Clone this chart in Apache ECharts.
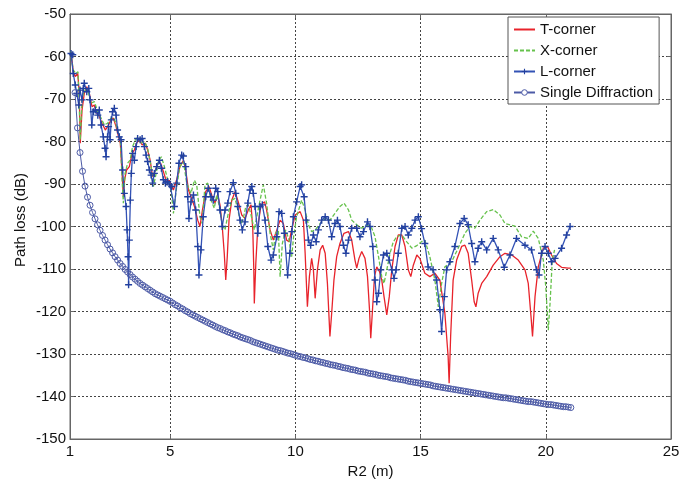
<!DOCTYPE html>
<html><head><meta charset="utf-8">
<script src="https://cdn.jsdelivr.net/npm/echarts@6/dist/echarts.min.js"></script>
<style>html,body{margin:0;padding:0;background:#fff}#c{width:699px;height:484px}</style>
</head><body><div id="c"></div>
<script>
const xTicks = [1, 5, 10, 15, 20, 25];
const seriesNames = ['T-corner', 'X-corner', 'L-corner', 'Single Diffraction'];

const tCorner = [[1.02,-59.5],[1.04,-58.9],[1.13,-63.6],[1.21,-64.7],[1.31,-64],[1.37,-68.7],[1.41,-80.4],[1.48,-72.6],[1.57,-68.7],[1.67,-67.1],[1.77,-68.7],[1.88,-71.8],[1.97,-71.4],[2.07,-73.4],[2.17,-74.1],[2.28,-75.7],[2.41,-77.3],[2.5,-76.5],[2.64,-74.9],[2.73,-74.5],[2.84,-76.5],[2.94,-78.9],[3.01,-80.4],[3.08,-87.5],[3.13,-93],[3.18,-89],[3.26,-86.7],[3.37,-85.9],[3.48,-82.8],[3.57,-82],[3.66,-80.4],[3.77,-79.6],[3.88,-80.8],[4.01,-80.4],[4.1,-82],[4.2,-84.4],[4.3,-88.3],[4.41,-86.7],[4.52,-85.1],[4.62,-85.1],[4.73,-87.1],[4.83,-89],[4.97,-89.2],[5.13,-91.4],[5.26,-89],[5.39,-85.9],[5.53,-84.4],[5.62,-86.7],[5.73,-91.4],[5.83,-93],[5.97,-95.3],[6.1,-98.5],[6.19,-100],[6.29,-96.1],[6.42,-91.8],[6.55,-90.6],[6.68,-93],[6.79,-94.5],[6.9,-92.6],[6.99,-94.9],[7.08,-100],[7.16,-106.3],[7.22,-112.6],[7.28,-107.1],[7.35,-98.5],[7.46,-93.8],[7.59,-91.8],[7.72,-94.2],[7.86,-97.3],[7.99,-98.1],[8.12,-96.1],[8.23,-94.9],[8.3,-100.8],[8.34,-110.2],[8.36,-118.1],[8.42,-108.7],[8.5,-100],[8.63,-94.9],[8.77,-94.2],[8.85,-96.1],[8.99,-100.8],[9.12,-103.2],[9.26,-100.8],[9.39,-98.5],[9.52,-99.3],[9.65,-103.2],[9.75,-103.6],[9.85,-100.8],[9.99,-97.3],[10.19,-96.5],[10.32,-98.5],[10.39,-106.3],[10.48,-118.9],[10.56,-111.8],[10.65,-107.5],[10.72,-110.2],[10.79,-116.9],[10.88,-110.2],[10.99,-105.5],[11.09,-104.4],[11.19,-106.3],[11.28,-113.4],[11.38,-125.9],[11.45,-120.4],[11.54,-112.6],[11.65,-107.1],[11.78,-104],[11.94,-101.6],[12.12,-101.2],[12.25,-103.2],[12.38,-107.9],[12.45,-109.8],[12.54,-107.5],[12.65,-105.9],[12.78,-107.5],[12.88,-111.8],[12.96,-119.6],[13.01,-126.3],[13.08,-119.6],[13.16,-111.8],[13.25,-109.5],[13.36,-110.6],[13.45,-112.6],[13.54,-116.5],[13.65,-120.8],[13.75,-116.5],[13.85,-110.2],[13.98,-104.7],[14.11,-102],[14.25,-102],[14.38,-104.7],[14.51,-110.2],[14.61,-111.8],[14.71,-109.1],[14.85,-106.7],[14.97,-107.5],[15.17,-111],[15.37,-111.8],[15.57,-111],[15.77,-112.6],[15.97,-120.4],[16.1,-130.6],[16.14,-136.9],[16.2,-125.9],[16.3,-112.6],[16.44,-107.9],[16.64,-104.7],[16.77,-104.4],[16.9,-106.3],[17.04,-112.6],[17.14,-117.7],[17.21,-118.9],[17.3,-115.7],[17.44,-113.4],[17.64,-111.8],[17.9,-109.1],[18.17,-107.1],[18.37,-106.3],[18.64,-106.7],[18.9,-107.9],[19.17,-110.2],[19.3,-113.4],[19.41,-121.2],[19.47,-125.9],[19.57,-116.5],[19.7,-109.5],[19.9,-105.1],[20.07,-104.7],[20.23,-106.7],[20.43,-108.7],[20.63,-109.6],[20.9,-109.8],[21.0,-109.8]];

const xCorner = [[1.02,-58.7],[1.04,-58.5],[1.13,-63.2],[1.24,-64],[1.32,-63.6],[1.37,-71.8],[1.41,-79.6],[1.48,-70.2],[1.57,-67.9],[1.71,-67.9],[1.84,-71],[1.97,-70.6],[2.11,-73],[2.24,-74.5],[2.37,-76.1],[2.5,-75.7],[2.64,-74.5],[2.77,-74.5],[2.9,-77.3],[3.01,-79.6],[3.08,-89],[3.13,-94.5],[3.2,-87.5],[3.3,-85.1],[3.4,-84.4],[3.5,-81.2],[3.61,-79.6],[3.72,-78.9],[3.82,-80.4],[3.97,-80],[4.1,-81.6],[4.24,-85.9],[4.33,-90.6],[4.44,-87.5],[4.54,-84.4],[4.65,-83.6],[4.77,-85.9],[4.9,-89],[5.02,-90.4],[5.13,-96.9],[5.26,-90.6],[5.39,-85.9],[5.53,-84.7],[5.66,-89.8],[5.83,-92.2],[5.97,-89.1],[6.06,-90.2],[6.19,-97.7],[6.28,-99.3],[6.39,-90.2],[6.5,-89.8],[6.63,-93.8],[6.76,-95.7],[6.86,-92.6],[6.95,-94.9],[7.08,-99.6],[7.19,-100.8],[7.32,-96.9],[7.46,-93.8],[7.59,-93.4],[7.7,-96.1],[7.83,-99.3],[7.92,-98.1],[8.02,-95.3],[8.12,-94.9],[8.23,-97.3],[8.36,-100.8],[8.46,-97.7],[8.59,-93.8],[8.72,-90.2],[8.85,-94.5],[8.99,-101.6],[9.12,-105.5],[9.21,-101.6],[9.32,-100.8],[9.39,-111.8],[9.48,-104],[9.61,-100.8],[9.75,-103.2],[9.85,-107.1],[9.93,-102.4],[10.05,-97.7],[10.25,-93.8],[10.39,-96.1],[10.52,-99.6],[10.65,-101.2],[10.79,-100.8],[10.99,-99.3],[11.19,-98.1],[11.38,-98.5],[11.58,-96.9],[11.78,-95.3],[11.94,-94.5],[12.12,-96.1],[12.25,-98.5],[12.45,-99.6],[12.65,-100.4],[12.85,-99.6],[13.05,-100.4],[13.18,-102.4],[13.32,-107.1],[13.45,-111.8],[13.54,-113.4],[13.65,-110.2],[13.78,-106.3],[13.91,-103.6],[14.05,-102.4],[14.25,-102],[14.45,-103.6],[14.65,-105.1],[14.85,-104.5],[15.05,-103.5],[15.17,-103.2],[15.37,-107.1],[15.57,-112.6],[15.71,-118.9],[15.84,-113.4],[15.97,-109.5],[16.24,-108.3],[16.5,-105.1],[16.77,-101.6],[16.97,-100],[17.17,-100.4],[17.37,-98.5],[17.64,-96.5],[17.9,-96],[18.17,-97.3],[18.37,-99.3],[18.77,-99.9],[19.03,-102.4],[19.3,-102.8],[19.5,-101.1],[19.7,-102.8],[19.9,-107.9],[20.0,-114.2],[20.1,-124.4],[20.17,-118.1],[20.26,-107.9],[20.35,-105.5]];

const lCorner = [[1.04,-59.3],[1.11,-59.6],[1.13,-64],[1.21,-66.7],[1.27,-68.7],[1.35,-71.4],[1.4,-67.9],[1.48,-70.2],[1.53,-67.5],[1.57,-66.3],[1.67,-68.3],[1.75,-67.5],[1.8,-70.2],[1.87,-76.1],[1.93,-73],[2.01,-72.6],[2.11,-73.8],[2.17,-72.6],[2.24,-76.1],[2.33,-78.9],[2.4,-81.6],[2.44,-83.6],[2.5,-78.9],[2.54,-76.5],[2.6,-79.6],[2.65,-74.9],[2.7,-73],[2.77,-72.2],[2.84,-73.8],[2.9,-77.3],[2.97,-78.9],[3.04,-79.6],[3.1,-86.7],[3.17,-92.2],[3.24,-95.3],[3.28,-100.8],[3.32,-107.1],[3.34,-113.7],[3.37,-103.2],[3.41,-93.8],[3.45,-87.5],[3.5,-82.8],[3.57,-84.4],[3.64,-81.2],[3.7,-79.3],[3.8,-79.6],[3.88,-79.3],[3.97,-81.2],[4.04,-83.2],[4.1,-84.7],[4.17,-86.7],[4.24,-87.9],[4.3,-89.8],[4.37,-87.5],[4.46,-85.9],[4.57,-84.4],[4.65,-86.3],[4.73,-89],[4.81,-89.8],[4.9,-89.4],[4.99,-90.2],[5.06,-90.6],[5.17,-95.3],[5.26,-89.8],[5.35,-85.1],[5.46,-83.2],[5.53,-83.4],[5.62,-85.9],[5.7,-93],[5.75,-98.1],[5.83,-94.2],[5.93,-92.6],[6.02,-96.1],[6.1,-104.7],[6.15,-111.4],[6.23,-105.5],[6.32,-97.7],[6.42,-93],[6.52,-91],[6.63,-93],[6.72,-93.8],[6.82,-91],[6.9,-91.8],[6.99,-96.1],[7.08,-100],[7.19,-96.1],[7.3,-94.5],[7.39,-91.8],[7.52,-89.7],[7.62,-92.2],[7.7,-95.3],[7.79,-98.5],[7.88,-100.8],[7.99,-98.9],[8.1,-94.5],[8.19,-91.4],[8.26,-90.6],[8.32,-92.2],[8.39,-95.3],[8.5,-101.6],[8.59,-95.3],[8.68,-94.9],[8.79,-98.5],[8.9,-104.7],[9.03,-107.9],[9.12,-106.7],[9.26,-102.4],[9.35,-96.5],[9.45,-96.9],[9.56,-101.6],[9.69,-111.4],[9.78,-106.3],[9.86,-101.2],[9.92,-97.7],[10.05,-94.2],[10.19,-90.6],[10.25,-90.2],[10.35,-93],[10.43,-98.5],[10.52,-103.2],[10.61,-104.4],[10.72,-102],[10.83,-103.6],[10.92,-100.8],[11.05,-98.5],[11.19,-97.7],[11.32,-98.5],[11.45,-102.4],[11.58,-99.3],[11.68,-98.5],[11.78,-100],[11.92,-104.4],[12.02,-106.3],[12.12,-103.2],[12.25,-100.4],[12.45,-100.4],[12.58,-102.4],[12.72,-101.2],[12.88,-98.9],[12.98,-100],[13.09,-104.7],[13.18,-112.6],[13.25,-117.7],[13.32,-115.7],[13.41,-110.2],[13.52,-106.7],[13.65,-106.3],[13.75,-107.9],[13.85,-110.2],[13.94,-112.2],[14.02,-110.2],[14.11,-106.3],[14.25,-100.4],[14.38,-100],[14.51,-102],[14.65,-100.4],[14.78,-98.5],[14.91,-97.7],[15.04,-100.5],[15.17,-104],[15.3,-109.5],[15.5,-110.2],[15.64,-112.6],[15.77,-119.6],[15.84,-124.7],[15.95,-116.5],[16.04,-110.2],[16.17,-108.3],[16.37,-104.7],[16.57,-99.3],[16.74,-98.1],[16.9,-99.6],[17.04,-104],[17.17,-108.3],[17.3,-105.1],[17.44,-103.6],[17.64,-105.5],[17.9,-102.8],[18.1,-105.5],[18.34,-109.6],[18.57,-106.7],[18.83,-102.8],[19.17,-104.4],[19.43,-105.5],[19.63,-110.2],[19.73,-111.4],[19.83,-106.3],[19.97,-104.7],[20.1,-106.3],[20.23,-108.3],[20.37,-107.5],[20.63,-105.1],[20.83,-102],[20.97,-100]];

// Single diffraction: sampled every 0.1 m from R2 = 1.2 m
const sdStart = 1.2, sdStep = 0.1;
const sdLoss = [-68.5,-76.8,-82.6,-87.0,-90.5,-93.1,-95.0,-96.7,-98.2,-99.6,-100.9,-102.1,-103.2,-104.3,-105.3,-106.2,-107.1,-107.9,-108.7,-109.4,-110.1,-110.7,-111.3,-111.9,-112.4,-112.9,-113.4,-113.8,-114.2,-114.6,-115.0,-115.4,-115.8,-116.1,-116.4,-116.7,-117.0,-117.3,
-117.6,-118.0,-118.4,-118.7,-119.1,-119.4,-119.8,-120.1,-120.5,-120.8,
-121.1,-121.4,-121.7,-122.0,-122.3,-122.6,-122.9,-123.2,-123.5,-123.8,
-124.0,-124.3,-124.5,-124.8,-125.0,-125.3,-125.5,-125.7,-126.0,-126.2,
-126.4,-126.6,-126.8,-127.1,-127.3,-127.5,-127.7,-127.9,-128.1,-128.3,
-128.5,-128.7,-128.9,-129.1,-129.2,-129.4,-129.6,-129.8,-129.9,-130.1,
-130.3,-130.5,-130.6,-130.8,-130.9,-131.1,-131.3,-131.4,-131.6,-131.7,
-131.9,-132.0,-132.2,-132.3,-132.5,-132.6,-132.7,-132.9,-133.0,-133.2,
-133.3,-133.4,-133.6,-133.7,-133.8,-134.0,-134.1,-134.2,-134.3,-134.5,
-134.6,-134.7,-134.8,-135.0,-135.1,-135.2,-135.3,-135.4,-135.6,-135.7,
-135.8,-135.9,-136.0,-136.1,-136.2,-136.4,-136.5,-136.6,-136.7,-136.8,
-136.9,-137.0,-137.1,-137.2,-137.3,-137.5,-137.6,-137.7,-137.8,-137.9,
-138.0,-138.1,-138.2,-138.3,-138.4,-138.5,-138.6,-138.7,-138.8,-138.9,
-139.0,-139.1,-139.2,-139.3,-139.4,-139.5,-139.6,-139.7,-139.8,-139.9,
-140.0,-140.1,-140.2,-140.3,-140.3,-140.4,-140.5,-140.6,-140.7,-140.8,
-140.9,-141.0,-141.1,-141.2,-141.2,-141.3,-141.4,-141.5,-141.6,-141.7,
-141.8,-141.9,-141.9,-142.0,-142.1,-142.2,-142.3,-142.4,-142.4,-142.5,-142.6];

const sdData = sdLoss.map((v, i) => [+(sdStart + i * sdStep).toFixed(2), v]);

const FONT = "'Liberation Sans', Arial, sans-serif";
const plusPath = 'path://M4,0h2v4h4v2h-4v4h-2v-4h-4v-2h4z';
const gridLine = { show: true, lineStyle: { color: '#444', width: 1, type: [2, 2] } };
const boxColor = '#666';
const noMark = { color: 'rgba(0,0,0,0)', borderWidth: 0, borderColor: 'rgba(0,0,0,0)' };

const chart = echarts.init(document.getElementById('c'), null, { renderer: 'canvas' });
chart.setOption({
  animation: false,
  backgroundColor: '#fff',
  textStyle: { fontFamily: FONT },
  grid: { left: 70, right: 28, top: 14, bottom: 45, show: true, borderColor: boxColor, borderWidth: 1, backgroundColor: 'transparent' },
  legend: {
    orient: 'vertical', left: 508, top: 17,
    data: [
      { name: seriesNames[0], itemStyle: noMark },
      { name: seriesNames[1], itemStyle: noMark },
      { name: seriesNames[2] },
      { name: seriesNames[3], itemStyle: { color: '#fff', borderColor: '#4c5aa6', borderWidth: 1 } }
    ],
    itemWidth: 21, itemHeight: 7, itemGap: 6,
    padding: [5, 6, 4, 5],
    borderColor: '#555', borderWidth: 1, backgroundColor: '#fff',
    textStyle: { fontFamily: FONT, fontSize: 15, color: '#111', lineHeight: 15 }
  },
  xAxis: [{
    type: 'value', min: 1, max: 25,
    name: 'R2 (m)', nameLocation: 'middle', nameGap: 22,
    nameTextStyle: { fontFamily: FONT, fontSize: 15, color: '#111' },
    axisLine: { show: true, lineStyle: { color: boxColor } },
    axisTick: { show: true, inside: true, length: 4, customValues: xTicks, lineStyle: { color: boxColor } },
    axisLabel: { customValues: xTicks, fontFamily: FONT, fontSize: 15, color: '#111', margin: 5 },
    splitLine: gridLine
  }, {
    type: 'value', min: 1, max: 25, position: 'top',
    axisLine: { show: true, lineStyle: { color: boxColor } },
    axisTick: { show: true, inside: true, length: 4, customValues: xTicks, lineStyle: { color: boxColor } },
    axisLabel: { show: false }, splitLine: { show: false }
  }],
  yAxis: [{
    type: 'value', min: -150, max: -50, interval: 10,
    name: 'Path loss (dB)', nameLocation: 'middle', nameGap: 42, nameMoveOverlap: false,
    nameTextStyle: { fontFamily: FONT, fontSize: 15, color: '#111', padding: [0, 0, 0, 13] },
    axisLine: { show: true, lineStyle: { color: boxColor } },
    axisTick: { show: true, inside: true, length: 4, lineStyle: { color: boxColor } },
    axisLabel: { fontFamily: FONT, fontSize: 15, color: '#111', margin: 4 },
    splitLine: gridLine
  }, {
    type: 'value', min: -150, max: -50, interval: 10, position: 'right',
    axisLine: { show: true, lineStyle: { color: boxColor } },
    axisTick: { show: true, inside: true, length: 4, lineStyle: { color: boxColor } },
    axisLabel: { show: false }, splitLine: { show: false }
  }],
  series: [
    { name: seriesNames[0], type: 'line', data: tCorner, symbol: 'none', showSymbol: false,
      lineStyle: { color: '#e8232b', width: 1.3 }, itemStyle: { color: '#e8232b' }, z: 2 },
    { name: seriesNames[1], type: 'line', data: xCorner, symbol: 'none', showSymbol: false,
      lineStyle: { color: '#66c24c', width: 1.3, type: [4, 2] }, itemStyle: { color: '#66c24c' }, z: 3 },
    { name: seriesNames[2], type: 'line', data: lCorner, symbol: plusPath, symbolSize: 7, showSymbol: true,
      lineStyle: { color: '#3352b5', width: 1.3 }, itemStyle: { color: '#22409f' }, z: 4 },
    { name: seriesNames[3], type: 'line', data: sdData, symbol: 'circle', symbolSize: 6, showSymbol: true,
      lineStyle: { color: '#4c5aa6', width: 1 },
      itemStyle: { color: 'rgba(255,255,255,0)', borderColor: '#4c5aa6', borderWidth: 1 }, z: 5 }
  ]
});
</script>
</body></html>
